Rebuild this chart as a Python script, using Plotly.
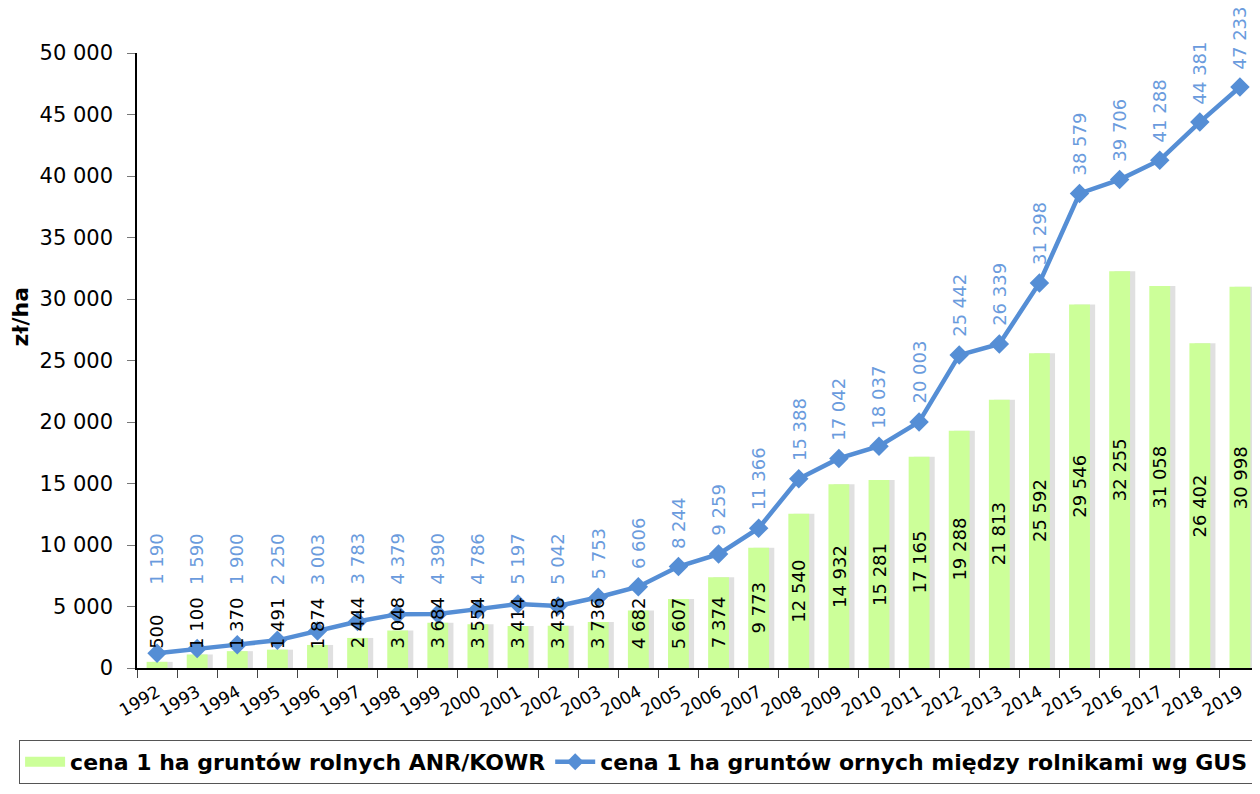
import plotly.graph_objects as go

years = [str(y) for y in range(1992, 2020)]
anr_kowr = [500, 1100, 1370, 1491, 1874, 2444, 3048, 3684, 3554, 3414, 3438, 3736, 4682, 5607,
            7374, 9773, 12540, 14932, 15281, 17165, 19288, 21813, 25592, 29546, 32255, 31058, 26402, 30998]
gus = [1190, 1590, 1900, 2250, 3003, 3783, 4379, 4390, 4786, 5197, 5042, 5753, 6606, 8244,
       9259, 11366, 15388, 17042, 18037, 20003, 25442, 26339, 31298, 38579, 39706, 41288, 44381, 47233]
y_ticks = list(range(0, 50001, 5000))

BAR_NAME = "cena 1 ha gruntów rolnych ANR/KOWR"
LINE_NAME = "cena 1 ha gruntów ornych między rolnikami wg GUS"
BAR_COLOR = "#CCFF99"
LINE_COLOR = "#558ED5"
LINE_TEXT = "#6A9BDD"
FONT = "DejaVu Sans"


def fmt(v):
    return f"{v:,}".replace(",", " ")


fig = go.Figure()

# soft drop shadow behind bars
fig.add_trace(go.Bar(
    x=years, y=anr_kowr, width=0.52, offset=-0.26 + 0.13,
    marker=dict(color="rgba(0,0,0,0.12)", line=dict(width=0)),
    showlegend=False, hoverinfo="skip"))

fig.add_trace(go.Bar(
    x=years, y=anr_kowr, width=0.52, offset=-0.26,
    name=BAR_NAME, showlegend=False,
    marker=dict(color=BAR_COLOR, line=dict(width=0))))

fig.add_trace(go.Scatter(
    x=years, y=gus, mode="lines+markers",
    name=LINE_NAME, showlegend=False,
    line=dict(color=LINE_COLOR, width=4.5),
    marker=dict(symbol="diamond", size=15, color=LINE_COLOR)))

# legend entries (bar key drawn as a wide block like the original)
fig.add_trace(go.Scatter(x=[None], y=[None], mode="lines", name=BAR_NAME,
                         line=dict(color=BAR_COLOR, width=13)))
fig.add_trace(go.Scatter(x=[None], y=[None], mode="lines+markers", name=LINE_NAME,
                         line=dict(color=LINE_COLOR, width=4.5),
                         marker=dict(symbol="diamond", size=13, color=LINE_COLOR)))

annotations = []
for i, v in enumerate(anr_kowr):
    if v < 6800:
        annotations.append(dict(x=i, y=1400, text=fmt(v), textangle=-90, showarrow=False,
                                yanchor="bottom", xanchor="center",
                                font=dict(family=FONT, size=18, color="black")))
    else:
        annotations.append(dict(x=i, y=v / 2, text=fmt(v), textangle=-90, showarrow=False,
                                yanchor="middle", xanchor="center",
                                font=dict(family=FONT, size=18, color="black")))
for i, v in enumerate(gus):
    annotations.append(dict(x=i, y=max(v + 1300, 6600), text=fmt(v), textangle=-90, showarrow=False,
                            yanchor="bottom", xanchor="center",
                            font=dict(family=FONT, size=18, color=LINE_TEXT)))

# axis title, placed higher than centre as in the original
annotations.append(dict(xref="paper", yref="paper", x=-0.104, y=0.572, text="<b>zł/ha</b>",
                        textangle=-90, showarrow=False, xanchor="center", yanchor="middle",
                        font=dict(family=FONT, size=22, color="black")))

fig.update_layout(
    width=1252, height=786,
    margin=dict(l=129, r=0, t=45, b=126, autoexpand=False),
    paper_bgcolor="white", plot_bgcolor="white",
    barmode="overlay",
    font=dict(family=FONT, color="black"),
    annotations=annotations,
    showlegend=True,
    legend=dict(orientation="h", x=-0.105, y=-0.117, xanchor="left", yanchor="top",
                bordercolor="#555555", borderwidth=1, bgcolor="white",
                font=dict(family=FONT, size=22, color="black", weight="bold"),
                itemwidth=40, tracegroupgap=0, valign="middle"),
    xaxis=dict(type="category", range=[-0.5, 27.5], showgrid=False,
               showline=True, linecolor="black", linewidth=1.5,
               ticks="outside", tickson="boundaries", ticklen=8, tickcolor="#444",
               ticklabelstandoff=6,
               tickangle=-30, tickfont=dict(family=FONT, size=17, color="black")),
    yaxis=dict(range=[0, 50000], tickvals=y_ticks,
               ticktext=[fmt(t) for t in y_ticks], showgrid=False, zeroline=False,
               showline=True, linecolor="black", linewidth=1.5,
               ticks="outside", ticklen=8, tickcolor="#777", ticklabelstandoff=10,
               tickfont=dict(family=FONT, size=21, color="black")),
)

fig.write_html("out.html")
